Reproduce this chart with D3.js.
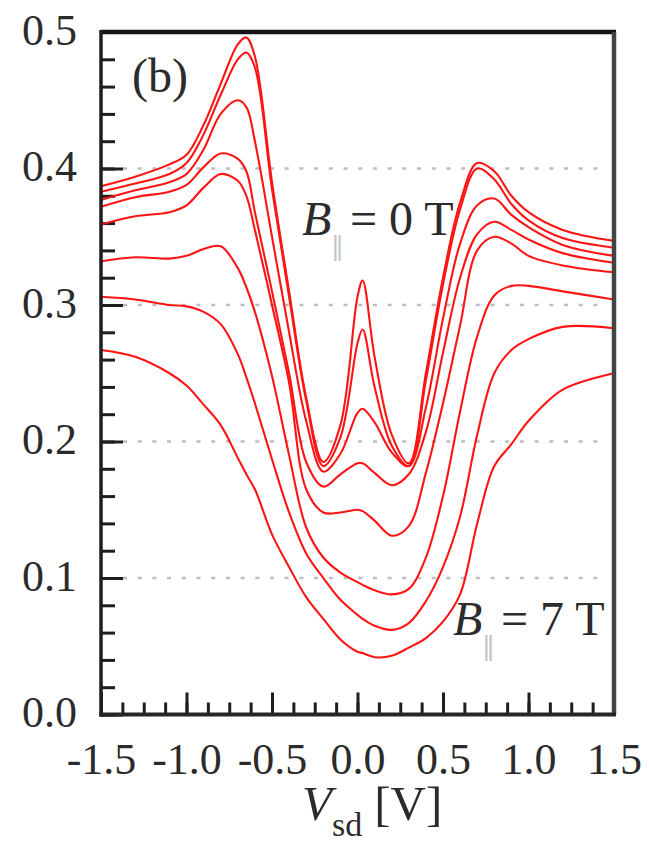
<!DOCTYPE html>
<html>
<head>
<meta charset="utf-8">
<script src="https://cdn.jsdelivr.net/npm/d3@7"></script>
<style>
  body { margin: 0; background: #fff; }
  svg { display: block; }
</style>
</head>
<body>
<div id="chart"></div>
<script>
const margin = {top: 32, right: 35, bottom: 128.5, left: 101};
const width = 649 - margin.left - margin.right;
const height = 843 - margin.top - margin.bottom;

// bias voltage grid shared by all traces
const vsd = [-1.5, -1.3, -1.1, -1.0, -0.9, -0.8, -0.7, -0.65, -0.6, -0.5, -0.4, -0.3, -0.2, -0.1,
             0.0, 0.03, 0.1, 0.2, 0.3, 0.4, 0.5, 0.6, 0.7, 0.8, 0.9, 1.0, 1.2, 1.5];

// conductance traces, from B = 0 T (top) down to B = 7 T (bottom)
const g1 = [.387, .394, .403, .410, .432, .462, .491, .496, .482, .390, .310, .232, .185, .212,
            .306, .318, .262, .205, .184, .250, .320, .375, .404, .398, .380, .368, .355, .347];
const g2 = [.383, .389, .396, .404, .425, .454, .480, .485, .474, .385, .306, .230, .182, .203,
            .272, .282, .240, .197, .182, .245, .315, .370, .400, .392, .374, .362, .349, .342];
const g3 = [.377, .384, .390, .396, .414, .440, .450, .445, .420, .350, .280, .215, .178, .191,
            .221, .224, .214, .192, .182, .225, .290, .345, .373, .378, .366, .357, .344, .336];
const g4 = [.372, .379, .383, .388, .401, .411, .407, .398, .368, .310, .250, .185, .167, .176,
            .184, .184, .177, .168, .176, .207, .265, .320, .352, .361, .355, .348, .338, .331];
const g5 = [.359, .365, .368, .373, .386, .396, .391, .380, .355, .300, .243, .165, .148, .148,
            .150, .149, .142, .131, .138, .177, .228, .285, .340, .350, .345, .336, .329, .324];
const g6 = [.332, .335, .334, .336, .341, .343, .327, .313, .295, .248, .190, .137, .115, .104,
            .097, .095, .091, .088, .092, .115, .160, .222, .277, .307, .314, .314, .310, .304];
const g7 = [.306, .304, .300, .299, .295, .286, .264, .247, .228, .187, .148, .118, .100, .084,
            .073, .070, .065, .062, .067, .083, .108, .145, .205, .250, .267, .275, .284, .283];
const g8 = [.267, .262, .250, .241, .227, .212, .188, .176, .165, .132, .108, .086, .070, .055,
            .046, .045, .042, .043, .049, .056, .068, .088, .140, .182, .198, .215, .238, .250];

const traces = [g1, g2, g3, g4, g5, g6, g7, g8];

const xTicks = [-1.5, -1.0, -0.5, 0.0, 0.5, 1.0, 1.5];
const yTicks = [0.0, 0.1, 0.2, 0.3, 0.4, 0.5];
const gridValues = [0.1, 0.2, 0.3, 0.4];

const serif = "'Liberation Serif', 'Times New Roman', serif";
const ink = "#2b2b2b";

var svg = d3.select("#chart")
    .append("svg")
    .attr("width", width + margin.left + margin.right)
    .attr("height", height + margin.top + margin.bottom)
    .append("g")
    .attr("transform", `translate(${margin.left},${margin.top})`);

const xScale = d3.scaleLinear()
                 .domain([-1.5, 1.5])
                 .range([0, width]);
const yScale = d3.scaleLinear()
                 .domain([0, 0.5])
                 .range([height, 0]);

// dotted guide lines
svg.selectAll(".grid")
    .data(gridValues)
    .enter().append("line")
    .attr("x1", 22)
    .attr("x2", width - 8)
    .attr("y1", d => yScale(d))
    .attr("y2", d => yScale(d))
    .attr("stroke", "#bdbdbd")
    .attr("stroke-width", 2.5)
    .attr("stroke-dasharray", "4,10.7");

// minor ticks
const xMinor = d3.axisBottom(xScale)
    .tickValues(d3.range(-1.5, 1.5001, 0.125))
    .tickSize(-12)
    .tickFormat("");
const yMinor = d3.axisLeft(yScale)
    .tickValues(d3.range(0, 0.5001, 0.02))
    .tickSize(-14)
    .tickFormat("");

svg.append("g")
    .attr("transform", "translate(0," + height + ")")
    .call(xMinor)
    .call(g => g.select(".domain").remove());
svg.append("g")
    .call(yMinor)
    .call(g => g.select(".domain").remove());

// major ticks + labels
const xAxis = d3.axisBottom(xScale)
    .tickValues(xTicks)
    .tickSize(-22)
    .tickPadding(28)
    .tickFormat(d => d.toFixed(1));
const yAxis = d3.axisLeft(yScale)
    .tickValues(yTicks)
    .tickSize(-22)
    .tickPadding(24)
    .tickFormat(d => d.toFixed(1));

svg.append("g")
    .attr("transform", "translate(0," + height + ")")
    .call(xAxis)
    .call(g => g.select(".domain").remove());
svg.append("g")
    .call(yAxis)
    .call(g => g.select(".domain").remove());

svg.selectAll(".tick line")
    .attr("stroke", "#1e1e1e")
    .attr("stroke-width", 3);
svg.selectAll(".tick text")
    .attr("font-family", serif)
    .attr("font-size", 44)
    .attr("fill", ink);
svg.selectAll(".tick text").filter(function() { return this.getAttribute("x") !== null && +this.getAttribute("x") < 0; })
    .attr("dy", "0.28em");

// traces
const line = d3.line()
    .x((d, i) => xScale(vsd[i]))
    .y(d => yScale(d))
    .curve(d3.curveCatmullRom.alpha(0.5));

svg.selectAll(".trace")
    .data(traces)
    .enter().append("path")
    .attr("class", "trace")
    .attr("d", d => line(d))
    .attr("fill", "none")
    .attr("stroke", "#ff1414")
    .attr("stroke-width", 2.1);

// frame
svg.append("line")
    .attr("x1", 0).attr("x2", width + 2)
    .attr("y1", 0).attr("y2", 0)
    .attr("stroke", "#151515").attr("stroke-width", 4.5);
svg.append("line")
    .attr("x1", width).attr("x2", width)
    .attr("y1", 0).attr("y2", height)
    .attr("stroke", "#444").attr("stroke-width", 4.5);
svg.append("line")
    .attr("x1", 0).attr("x2", 0)
    .attr("y1", -2).attr("y2", height + 2)
    .attr("stroke", "#1e1e1e").attr("stroke-width", 3.5);
svg.append("line")
    .attr("x1", -2).attr("x2", width + 2)
    .attr("y1", height).attr("y2", height)
    .attr("stroke", "#262626").attr("stroke-width", 4);

// panel label
svg.append("text")
    .attr("x", 132 - margin.left)
    .attr("y", 92 - margin.top)
    .attr("font-family", serif)
    .attr("font-size", 48)
    .attr("fill", ink)
    .text("(b)");

// field annotations
function fieldLabel(x, y, value) {
    svg.append("text")
        .attr("x", x - margin.left)
        .attr("y", y - margin.top)
        .attr("font-family", serif)
        .attr("font-style", "italic")
        .attr("font-size", 48)
        .attr("fill", ink)
        .text("B");
    svg.append("text")
        .attr("x", x + 29 - margin.left)
        .attr("y", y + 20 - margin.top)
        .attr("font-family", "'DejaVu Serif', serif")
        .attr("font-size", 26)
        .attr("fill", "#c4c4c4")
        .text("\u2016");
    svg.append("text")
        .attr("x", x + 48 - margin.left)
        .attr("y", y - margin.top)
        .attr("font-family", serif)
        .attr("font-size", 48)
        .attr("fill", ink)
        .text("= " + value + " T");
}
fieldLabel(302, 235, "0");
fieldLabel(453, 635, "7");

// x axis title
const title = svg.append("text")
    .attr("x", 302 - margin.left)
    .attr("y", 820 - margin.top)
    .attr("font-family", serif)
    .attr("font-size", 49)
    .attr("fill", ink);
title.append("tspan")
    .attr("font-style", "italic")
    .text("V");
title.append("tspan")
    .attr("font-size", 34)
    .attr("dy", 16)
    .text("sd");
title.append("tspan")
    .attr("dy", -16)
    .attr("dx", 12)
    .text("[V]");
</script>
</body>
</html>
